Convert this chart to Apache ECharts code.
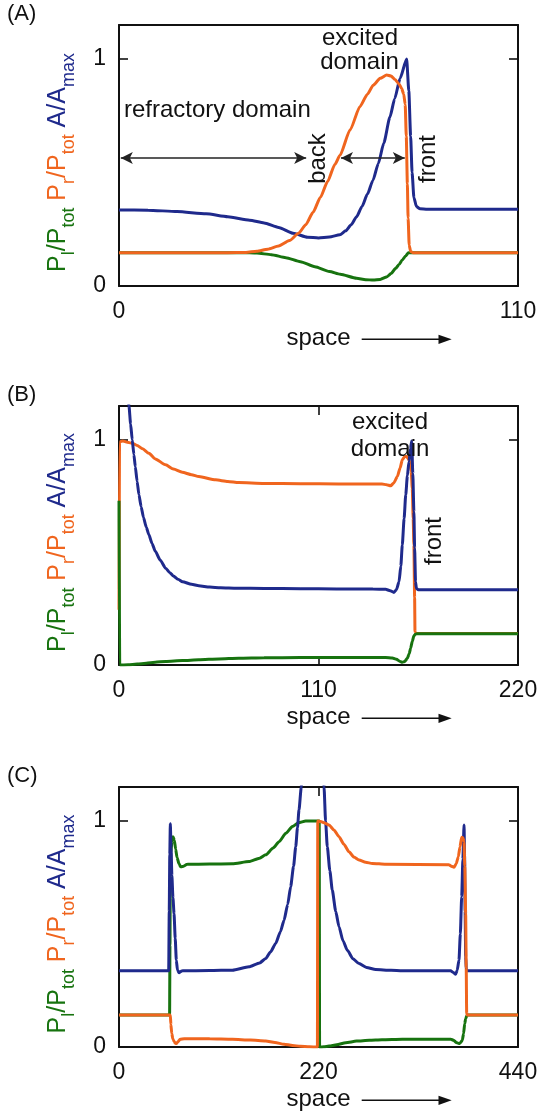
<!DOCTYPE html>
<html>
<head>
<meta charset="utf-8">
<script src="https://cdn.jsdelivr.net/npm/echarts@6/dist/echarts.min.js"></script>
<style>
html,body{margin:0;padding:0;background:#fff;}
#chart{width:544px;height:1112px;}
</style>
</head>
<body>
<div id="chart"></div>
<script>
// ---------------- DATA ----------------
const panelLabels = ['(A)', '(B)', '(C)'];
const xMaxes = [110, 220, 440];
const xIntervals = [110, 110, 220];
const yTicks = [0, 1];

// Panel A  [space, value]
const A_green = [[0,0.147],[34,0.147],[38,0.145],[42,0.138],[46,0.125],[50,0.107],[54,0.085],[58,0.064],[61,0.052],[65.5,0.034],[68,0.028],[70.1,0.026],[72,0.029],[73.8,0.04],[75,0.055],[76.3,0.078],[77.2,0.095],[78.1,0.115],[79,0.132],[79.8,0.147],[110,0.147]];
const A_blue = [[0,0.335],[8,0.334],[16,0.328],[24,0.318],[30,0.305],[36,0.29],[40,0.278],[44,0.258],[48,0.232],[52,0.215],[55,0.212],[58,0.216],[60.9,0.226],[62.5,0.243],[64,0.27],[65.5,0.305],[67,0.35],[68.5,0.405],[70,0.465],[71.5,0.54],[73,0.63],[74.7,0.745],[76,0.825],[77.5,0.915],[79.3,1.0],[79.9,0.86],[80.4,0.66],[80.8,0.5],[81.3,0.39],[82,0.35],[83,0.34],[85,0.338],[110,0.338]];
const A_orange = [[0,0.147],[30,0.147],[35,0.148],[38,0.153],[41,0.162],[44,0.176],[47,0.2],[49.5,0.232],[51.5,0.27],[53.5,0.325],[55.5,0.39],[57.5,0.46],[59.5,0.535],[60.9,0.575],[63.7,0.687],[66.4,0.79],[68.5,0.845],[70.1,0.885],[72,0.915],[73.8,0.93],[75,0.925],[76.1,0.91],[77.2,0.89],[77.9,0.871],[78.5,0.845],[78.9,0.8],[79.2,0.66],[79.5,0.45],[79.7,0.3],[80,0.18],[80.4,0.152],[81,0.147],[110,0.147]];

// Panel B
const B_blue = [[0,2.2],[2,1.7],[3.5,1.38],[4.5,1.25],[5.5,1.15],[6.4,1.07],[7.3,1.0],[8.2,0.935],[9,0.88],[10,0.815],[11,0.756],[12.2,0.703],[13.5,0.655],[15,0.613],[16.5,0.578],[18.2,0.54],[20,0.505],[22.8,0.465],[25.7,0.43],[28,0.41],[30,0.395],[32.5,0.381],[35,0.37],[40,0.358],[44,0.352],[50,0.346],[56,0.343],[65,0.341],[80,0.34],[100,0.339],[120,0.338],[140,0.337],[147,0.336],[149.5,0.33],[151.6,0.322],[153,0.335],[154.4,0.37],[155.4,0.44],[156.2,0.533],[157.2,0.65],[158.1,0.756],[159,0.84],[159.9,0.904],[160.7,0.96],[161.4,0.995],[162,0.85],[162.6,0.68],[163,0.52],[163.5,0.37],[164,0.34],[165,0.334],[220,0.334]];
const B_orange = [[0,0.245],[0.3,0.99],[2,0.995],[4,0.99],[7.3,0.985],[10,0.975],[13,0.96],[16.5,0.94],[20,0.915],[25.7,0.889],[30,0.87],[34.9,0.856],[40,0.845],[44,0.837],[53.3,0.822],[60,0.815],[66,0.81],[80,0.806],[100,0.805],[121,0.804],[145,0.804],[147.5,0.8],[149.8,0.796],[151.5,0.808],[153.5,0.837],[155,0.875],[156.2,0.911],[157.5,0.925],[158.6,0.926],[159.6,0.915],[160.4,0.904],[161.1,0.86],[161.7,0.785],[162.2,0.65],[162.6,0.533],[163,0.3],[163.2,0.148],[163.6,0.14],[220,0.14]];
const B_green = [[0,0.729],[0.4,0.0],[5,0.001],[10,0.004],[15,0.008],[20,0.012],[25.7,0.016],[35,0.02],[44,0.023],[55,0.027],[66,0.03],[80,0.032],[100,0.033],[120,0.033],[147,0.033],[150.7,0.031],[153,0.025],[155,0.016],[156.2,0.012],[157.5,0.015],[159,0.03],[160,0.05],[160.8,0.074],[161.7,0.105],[162.6,0.13],[163.5,0.137],[164.5,0.139],[220,0.139]];

// Panel C
const C_green = [[0,0.142],[55.8,0.142],[56.2,0.45],[56.6,0.75],[57.3,0.86],[58.3,0.91],[59.6,0.93],[61,0.915],[62.5,0.875],[64,0.838],[66.2,0.81],[68,0.797],[70,0.798],[75.3,0.808],[100,0.809],[125,0.81],[143.4,0.82],[155,0.835],[161.8,0.85],[170,0.88],[176.5,0.908],[184,0.945],[191.2,0.975],[198,0.992],[205.9,1.0],[220.8,1.0],[221.2,0.0],[226,0.001],[231.6,0.004],[240,0.01],[250,0.019],[262,0.026],[276,0.03],[290,0.032],[312.4,0.034],[365.8,0.034],[369,0.03],[372,0.02],[374.9,0.015],[376.8,0.02],[378.6,0.03],[380,0.06],[381.2,0.103],[382.3,0.125],[383.4,0.137],[384.5,0.142],[440,0.142]];
const C_blue = [[0,0.337],[54.8,0.337],[55.4,0.6],[56,0.85],[56.6,0.987],[57.4,0.88],[58.3,0.76],[59.5,0.66],[60.7,0.59],[62,0.48],[63.2,0.384],[64.5,0.34],[66.2,0.328],[68,0.334],[69.8,0.337],[100,0.338],[125,0.34],[143.4,0.355],[155,0.372],[161.8,0.391],[167,0.42],[172.8,0.458],[178,0.51],[182,0.561],[186,0.63],[189.3,0.709],[192.5,0.8],[194.9,0.886],[196.8,0.97],[198.5,1.049],[201,1.15],[204,1.5],[212,2.5],[220,3.0],[224,1.5],[226.1,1.15],[227.8,1.0],[229.7,0.886],[232.5,0.78],[235.2,0.694],[239,0.6],[242.6,0.532],[247,0.47],[251.8,0.428],[258,0.39],[264.7,0.369],[273,0.352],[283.1,0.343],[300,0.339],[312.4,0.337],[365.8,0.337],[368.5,0.33],[371.3,0.322],[373,0.34],[374.9,0.384],[376.4,0.5],[377.9,0.665],[379.2,0.83],[380.5,0.982],[381.1,0.85],[381.7,0.6],[382.3,0.4],[383,0.34],[384,0.337],[440,0.337]];
const C_orange = [[0,0.142],[56.6,0.142],[57.2,0.1],[58.2,0.06],[59.4,0.035],[60.7,0.025],[62,0.017],[63.2,0.015],[64.8,0.022],[67.4,0.034],[72,0.037],[76.6,0.037],[100,0.036],[125,0.034],[145,0.031],[161.8,0.027],[172,0.02],[182,0.012],[191.2,0.007],[200,0.003],[210,0.001],[218.8,0],[219.2,1.0],[222.4,0.997],[226,0.992],[231.6,0.982],[237,0.96],[242.6,0.93],[248,0.897],[253.6,0.864],[259,0.84],[264.7,0.827],[272,0.817],[279.4,0.812],[294.1,0.808],[363.9,0.806],[366.5,0.8],[369.4,0.795],[371.8,0.81],[374.2,0.842],[376,0.885],[377.9,0.928],[379.3,0.925],[380.5,0.908],[381.3,0.8],[382.3,0.59],[382.9,0.35],[383.4,0.148],[384,0.142],[440,0.142]];

// Annotation arrows in panel A (space range at a level)
const A_refractoryArrow = [[0.5, 0.564], [51.6, 0.564]];
const A_excitedArrow = [[61.2, 0.564], [78.8, 0.564]];

// ---------------- CHART ----------------
const FONT = '"Liberation Sans", Arial, Helvetica, sans-serif';
const GREEN = '#17730f', BLUE = '#1f2a8c', ORANGE = '#f0651e', INK = '#111';
const grids = [
  {left: 119, top: 25, width: 399, height: 261},
  {left: 119, top: 406, width: 399, height: 259},
  {left: 119, top: 787, width: 399, height: 260}
];

const xAxes = [], yAxes = [], series = [], graphics = [];
const tickStyle = {show: true, inside: true, length: 9, lineStyle: {color: INK, width: 1.6}};
const lineStyleAxis = {show: true, onZero: false, lineStyle: {color: INK, width: 2}};

grids.forEach((g, i) => {
  xAxes.push({
    type: 'value', gridIndex: i, position: 'bottom', min: 0, max: xMaxes[i], interval: xIntervals[i],
    axisLine: lineStyleAxis, axisTick: tickStyle, splitLine: {show: false},
    axisLabel: {margin: 14, fontSize: 23, color: INK, fontFamily: FONT},
    name: 'space', nameLocation: 'middle', nameGap: 40,
    nameTextStyle: {fontSize: 24, color: INK, fontFamily: FONT}
  });
  xAxes.push({
    type: 'value', gridIndex: i, position: 'top', min: 0, max: xMaxes[i], interval: xIntervals[i],
    axisLine: lineStyleAxis, axisTick: tickStyle, splitLine: {show: false}, axisLabel: {show: false}
  });
  yAxes.push({
    type: 'value', gridIndex: i, position: 'left', min: 0, max: 1.15, interval: 1,
    axisLine: lineStyleAxis, axisTick: tickStyle, splitLine: {show: false},
    axisLabel: {margin: 13, fontSize: 23, color: INK, fontFamily: FONT,
      formatter: v => (yTicks.indexOf(v) >= 0 ? String(v) : '')}
  });
  yAxes.push({
    type: 'value', gridIndex: i, position: 'right', min: 0, max: 1.15, interval: 1,
    axisLine: lineStyleAxis, axisTick: tickStyle, splitLine: {show: false}, axisLabel: {show: false}
  });

  // panel label
  graphics.push({type: 'text', left: 7, top: g.top - 22,
    style: {text: panelLabels[i], font: '22px ' + FONT, fill: INK}});

  // y-axis name (coloured, with subscripts)
  const mainSty = (c) => ({fontSize: 25, fontFamily: FONT, fill: c, verticalAlign: 'bottom', padding: [0, 0, 8, 0]});
  const subSty = (c) => ({fontSize: 18, fontFamily: FONT, fill: c, verticalAlign: 'bottom'});
  graphics.push({
    type: 'text', x: 62, y: g.top + g.height / 2 + 7, rotation: Math.PI / 2,
    style: {
      text: '{g|P}{gs|l}{g|/P}{gs|tot}{g| }{o|P}{os|r}{o|/P}{os|tot}{o| }{b|A/A}{bs|max}',
      align: 'center', verticalAlign: 'middle',
      rich: {g: mainSty(GREEN), gs: subSty(GREEN), o: mainSty(ORANGE), os: subSty(ORANGE), b: mainSty(BLUE), bs: subSty(BLUE)}
    }
  });

  // "space ->" arrow
  const ay = g.top + g.height + 53.3;
  graphics.push({type: 'line', shape: {x1: 361.7, y1: ay, x2: 441, y2: ay}, style: {stroke: INK, lineWidth: 1.6}});
  graphics.push({type: 'polygon', shape: {points: [[438.5, ay - 4.6], [451.7, ay], [438.5, ay + 4.6]]}, style: {fill: INK}});
});

function lineSeries(data, color, i, z) {
  return {
    type: 'line', data: data, xAxisIndex: 2 * i, yAxisIndex: 2 * i,
    showSymbol: false, symbol: 'none', smooth: 0.2, smoothMonotone: 'x', clip: true,
    lineStyle: {color: color, width: 3}, z: z, silent: true
  };
}

series.push(lineSeries(A_green, GREEN, 0, 2));
const aBlue = lineSeries(A_blue, BLUE, 0, 3);
aBlue.markLine = {
  silent: true, symbol: ['arrow', 'arrow'], symbolSize: [9, 12],
  lineStyle: {color: '#222', width: 1.5, type: 'solid'}, label: {show: false},
  emphasis: {disabled: true},
  data: [
    [{coord: A_refractoryArrow[0]}, {coord: A_refractoryArrow[1]}],
    [{coord: A_excitedArrow[0]}, {coord: A_excitedArrow[1]}]
  ]
};
series.push(aBlue);
series.push(lineSeries(A_orange, ORANGE, 0, 4));

series.push(lineSeries(B_orange, ORANGE, 1, 2));
series.push(lineSeries(B_green, GREEN, 1, 3));
series.push(lineSeries(B_blue, BLUE, 1, 4));

series.push(lineSeries(C_green, GREEN, 2, 2));
series.push(lineSeries(C_blue, BLUE, 2, 3));
series.push(lineSeries(C_orange, ORANGE, 2, 4));

// text annotations
const txt = (s, x, y, rot) => ({
  type: 'text', x: x, y: y, rotation: rot || 0, z: 10,
  style: {text: s, font: '24px ' + FONT, fill: INK, align: 'center', verticalAlign: 'middle'}
});
graphics.push({type: 'text', x: 124, y: 110.5, z: 10,
  style: {text: 'refractory domain', font: '24px ' + FONT, fill: INK, align: 'left', verticalAlign: 'middle'}});
graphics.push(txt('excited', 360, 38.3));
graphics.push(txt('domain', 359.5, 62.5));
graphics.push(txt('back', 318, 158.5, Math.PI / 2));
graphics.push(txt('front', 428.7, 159, Math.PI / 2));
graphics.push(txt('excited', 390, 422));
graphics.push(txt('domain', 390, 449));
graphics.push(txt('front', 434.7, 541, Math.PI / 2));

const chart = echarts.init(document.getElementById('chart'), null, {renderer: 'canvas'});
chart.setOption({
  animation: false,
  backgroundColor: '#fff',
  grid: grids,
  xAxis: xAxes,
  yAxis: yAxes,
  series: series,
  graphic: graphics
});
</script>
</body>
</html>
